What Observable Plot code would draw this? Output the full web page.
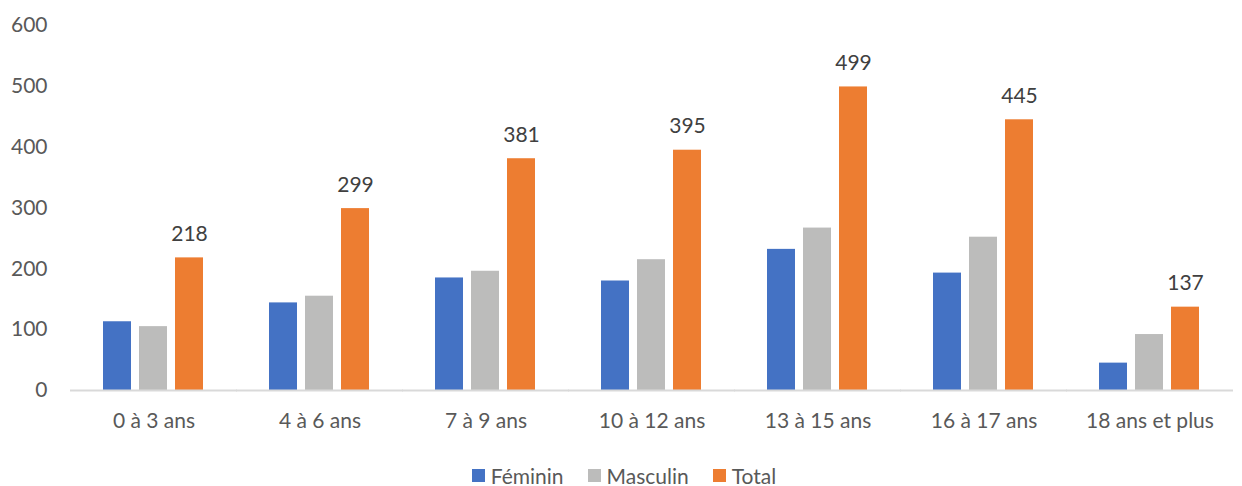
<!DOCTYPE html>
<html>
<head>
<meta charset="utf-8">
<script src="https://cdn.jsdelivr.net/npm/d3@7"></script>
<script src="https://cdn.jsdelivr.net/npm/@observablehq/plot@0.6"></script>
<style>
  body { margin: 0; background: #fff; font-family: Lato, "Open Sans", sans-serif; }
  #legend { display: flex; justify-content: center; align-items: center; gap: 24px; font-size: 21px; color: #595959; height: 28px; padding-top: 11px; padding-left: 6px; }
  #legend span.sw { display: inline-block; width: 13px; height: 13px; margin-right: 6px; }
  #legend .item { display: flex; align-items: center; }
</style>
</head>
<body>
<div id="chart"></div>
<div id="legend"></div>
<script>
const categories = ["0 à 3 ans", "4 à 6 ans", "7 à 9 ans", "10 à 12 ans", "13 à 15 ans", "16 à 17 ans", "18 ans et plus"];
const feminin = [113, 144, 185, 180, 232, 193, 45];
const masculin = [105, 155, 196, 215, 267, 252, 92];
const total = [218, 299, 381, 395, 499, 445, 137];
const series = ["Féminin", "Masculin", "Total"];
const colors = ["#4472C4", "#BCBCBB", "#ED7D31"];
const yTicks = [0, 100, 200, 300, 400, 500, 600];

const valuesBySeries = [feminin, masculin, total];
const data = [];
categories.forEach((c, i) => {
  series.forEach((s, j) => data.push({cat: c, series: s, value: valuesBySeries[j][i]}));
});

const chart = Plot.plot({
  width: 1242,
  height: 450,
  marginLeft: 69,
  marginRight: 9,
  marginTop: 25,
  marginBottom: 60,
  style: {fontFamily: "Lato, 'Open Sans', sans-serif", fontSize: "21px", color: "#595959", background: "#fff", display: "block"},
  fx: {domain: categories, paddingInner: 0.38, paddingOuter: 0.19, label: null, tickSize: 0, tickPadding: 23},
  x: {domain: series, paddingInner: 0.216, paddingOuter: 0, axis: null},
  y: {domain: [0, 600], ticks: yTicks, label: null, tickSize: 0, tickPadding: 55},
  color: {domain: series, range: colors},
  marks: [
    Plot.barY(data, {fx: "cat", x: "series", y: "value", fill: "series"}),
    Plot.ruleY([0], {stroke: "#D9D9D9", strokeWidth: 2, insetLeft: -32, insetRight: -32}),
    Plot.text(data.filter(d => d.series === "Total"), {fx: "cat", x: "series", y: "value", text: d => String(d.value), dy: -17, lineAnchor: "bottom", fill: "#404040", fontSize: 21})
  ]
});
document.getElementById("chart").append(chart);

const legend = document.getElementById("legend");
series.forEach((s, j) => {
  const item = document.createElement("div");
  item.className = "item";
  const sw = document.createElement("span");
  sw.className = "sw";
  sw.style.background = colors[j];
  item.append(sw, document.createTextNode(s));
  legend.append(item);
});
</script>
</body>
</html>
